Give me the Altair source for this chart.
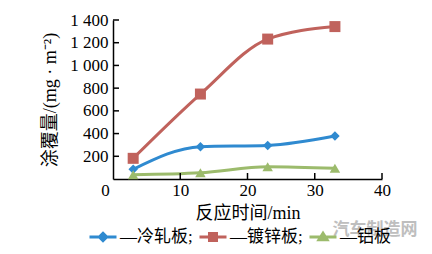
import altair as alt
import pandas as pd

# ---- data ----
times = [3, 13, 23, 33]
series_names = ["冷轧板", "镀锌板", "铝板"]
cold_rolled = [85, 285, 296, 378]
galvanized = [182, 748, 1232, 1342]
aluminum = [38, 55, 108, 94]
x_ticks = [0, 10, 20, 30, 40]
y_ticks = [200, 400, 600, 800, 1000, 1200, 1400]
colors = ["#2f8ad0", "#c0625c", "#9cbb6c"]
watermark = ["汽车制造网"]

rows = []
for name, vals in zip(series_names, [cold_rolled, galvanized, aluminum]):
    for t, v in zip(times, vals):
        rows.append({"time": t, "value": v, "series": name})
df = pd.DataFrame(rows)

W, H = 269, 159
NUM_FONT = "Liberation Serif"
CJK_FONT = "Liberation Serif, Noto Sans CJK SC"

xscale = alt.Scale(domain=[0, 40], nice=False, zero=False)
yscale = alt.Scale(domain=[0, 1400], nice=False)
color_scale = alt.Scale(domain=series_names, range=colors)

x_axis = alt.Axis(
    values=x_ticks, ticks=False, grid=False, domainColor="black", domainWidth=1.5,
    labelFont=NUM_FONT, labelFontSize=17, labelColor="black", labelPadding=3,
    labelFlush=False, labelOverlap=False,
    labelOffset={"condition": {"test": "datum.value == 0", "value": -8}, "value": 0},
    title="反应时间/min", titleFont=CJK_FONT, titleFontSize=18, titleFontWeight="normal",
    titleColor="black", titlePadding=6,
)
y_axis = alt.Axis(
    values=y_ticks, ticks=False, grid=False, domainColor="black", domainWidth=1.5,
    labelFont=NUM_FONT, labelFontSize=17, labelColor="black", labelPadding=5,
    labelFlush=False, labelOverlap=False,
    labelExpr="replace(format(datum.value, ','), ',', ' ')",
    title="涂覆量/(mg · m⁻²)", titleFont=CJK_FONT, titleFontSize=18, titleFontWeight="normal",
    titleColor="black", titlePadding=10,
)

base = alt.Chart(df)

lines = base.mark_line(interpolate="monotone", strokeWidth=3).encode(
    x=alt.X("time:Q", scale=xscale, axis=x_axis),
    y=alt.Y("value:Q", scale=yscale, axis=y_axis),
    stroke=alt.Stroke("series:N", scale=color_scale, legend=None),
)

shapes = ["diamond", "square", "triangle-up"]
sizes = [90, 121, 110]
point_layers = []
for name, shp, sz, col in zip(series_names, shapes, sizes, colors):
    point_layers.append(
        base.transform_filter(alt.datum.series == name)
        .mark_point(shape=shp, filled=True, size=sz, opacity=1, color=col)
        .encode(
            x=alt.X("time:Q", scale=xscale, axis=x_axis),
            y=alt.Y("value:Q", scale=yscale, axis=y_axis),
        )
    )

legend_paths = [
    "M-1,0L1,0M0,-0.27L0.27,0L0,0.27L-0.27,0Z",
    "M-1,0L1,0M-0.26,-0.26L0.26,-0.26L0.26,0.26L-0.26,0.26Z",
    "M-1,0L1,0M0,-0.28L0.3,0.2L-0.3,0.2Z",
]
leg = alt.Legend(
    title=None, orient="none", legendX=-25, legendY=202, direction="horizontal", columns=3,
    gridAlign="none",
    labelExpr="datum.label == '铝板' ? '—' + datum.label : '—' + datum.label + ';'",
)
legend_layer = (
    base.transform_filter("false")
    .mark_point(filled=True, opacity=1, strokeWidth=3)
    .encode(
        x=alt.X("time:Q", scale=xscale, axis=x_axis),
        y=alt.Y("value:Q", scale=yscale, axis=y_axis),
        shape=alt.Shape("series:N", scale=alt.Scale(domain=series_names, range=legend_paths), legend=leg),
        fill=alt.Fill("series:N", scale=color_scale, legend=leg),
        stroke=alt.Stroke("series:N", scale=color_scale, legend=leg),
    )
)

ytick_layer = alt.Chart(pd.DataFrame({"value": y_ticks})).mark_rule(color="black", strokeWidth=1.5).encode(
    y=alt.Y("value:Q", scale=yscale, axis=y_axis), x=alt.value(0), x2=alt.value(6)
)
xtick_layer = alt.Chart(pd.DataFrame({"time": x_ticks[1:]})).mark_rule(color="black", strokeWidth=1.5).encode(
    x=alt.X("time:Q", scale=xscale, axis=x_axis), y=alt.value(H), y2=alt.value(H - 6)
)

wm_layer = alt.Chart(pd.DataFrame({"t": watermark})).mark_text(
    font="Noto Sans CJK SC", fontSize=17, fontWeight="bold", color="#b8b8b8", opacity=0.9
).encode(text="t:N", x=alt.value(262), y=alt.value(210))

chart = (
    alt.layer(lines, *point_layers, legend_layer, ytick_layer, xtick_layer, wm_layer)
    .resolve_legend(fill="independent", stroke="independent", shape="independent")
    .properties(
        width=W, height=H,
        autosize=alt.AutoSizeParams(type="none"),
        padding={"left": 113, "top": 20, "right": 50, "bottom": 75},
        background="white",
    )
    .configure_view(stroke=None)
    .configure_legend(
        symbolSize=729, symbolStrokeWidth=3, labelFont=CJK_FONT, labelFontSize=17,
        labelColor="black", labelLimit=0, labelOffset=2, columnPadding=0, padding=0,
    )
)

chart.save("out.html", embed_options={"renderer": "svg", "actions": False})
